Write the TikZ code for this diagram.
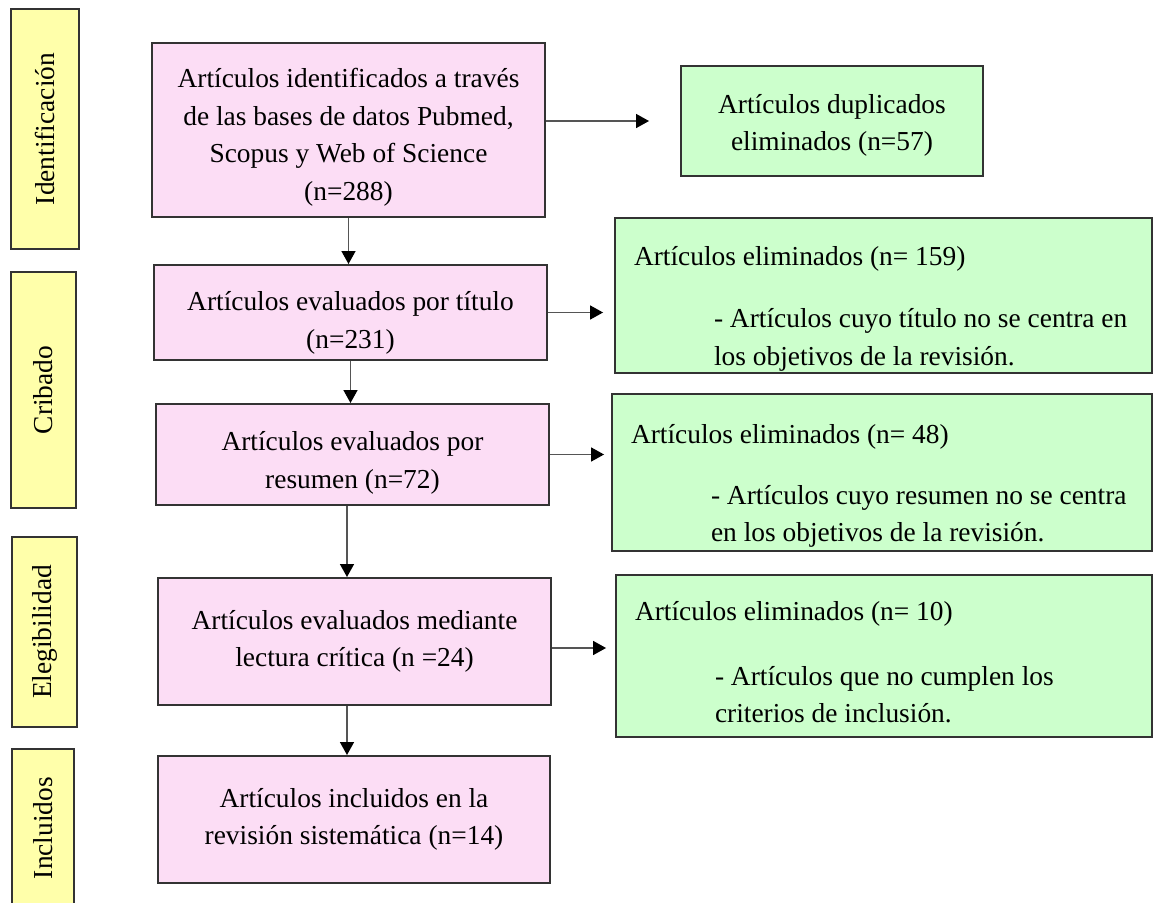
\documentclass[tikz,border=0pt]{standalone}
\usepackage{fontspec}
\setmainfont{Liberation Serif}
\usetikzlibrary{arrows.meta}
\definecolor{stagefill}{RGB}{255,255,170}
\definecolor{pinkfill}{RGB}{252,221,245}
\definecolor{greenfill}{RGB}{204,255,204}
\definecolor{edgegray}{RGB}{51,51,51}
\definecolor{arrowgray}{RGB}{85,85,85}
\tikzset{
  box/.style={draw=edgegray, line width=0.04cm, inner sep=0pt},
  stage/.style={box, fill=stagefill, rotate=90},
  flow/.style={box, fill=pinkfill, align=center, minimum width=7.86cm},
  excl/.style={box, fill=greenfill, align=flush left, inner xsep=0.38cm},
}
\newcommand{\ind}[1]{\hspace*{1.6cm}\mbox{#1}}
\newcommand{\topstrut}[1]{\rule{0pt}{#1}}
\begin{document}
\begin{tikzpicture}[x=0.02cm, y=-0.02cm, font=\fontsize{15.6}{21.4}\selectfont]
      \useasboundingbox (0,0) rectangle (1154,903);
      \draw
        (45,129) node[stage, minimum width=4.8cm, minimum height=1.36cm] (s1){Identificación}
        (43.5,390) node[stage, minimum width=4.72cm, minimum height=1.3cm] (s2){Cribado}
        (44.5,632) node[stage, minimum width=3.8cm, minimum height=1.3cm] (s3){Elegibilidad}
        (43,828) node[stage, minimum width=3.16cm, minimum height=1.24cm] (s4){Incluidos};
      \draw
        (348.5,130) node[flow, minimum height=3.48cm] (p1){\topstrut{0.68cm}Artículos identificados a través\\de las bases de datos Pubmed,\\Scopus y Web of Science\\(n=288)}
        (350.5,312.5) node[flow, minimum height=1.9cm] (p2){\topstrut{0.8cm}Artículos evaluados por título\\(n=231)}
        (352.5,454.5) node[flow, minimum height=2.02cm] (p3){\topstrut{0.72cm}Artículos evaluados por\\resumen (n=72)}
        (354.5,641.5) node[flow, minimum height=2.54cm] (p4){Artículos evaluados mediante\\lectura crítica (n =24)}
        (354,819.5) node[flow, minimum height=2.54cm] (p5){Artículos incluidos en la\\revisión sistemática (n=14)};
      \draw
        (832,121) node[excl, align=center, minimum width=6.04cm, minimum height=2.2cm] (g1){\topstrut{0.56cm}Artículos duplicados\\eliminados (n=57)}
        (883.5,295.5) node[excl, text width=9.98cm, minimum height=3.1cm] (g2){\topstrut{0.92cm}Artículos eliminados (n= 159)\\[0.48cm]\ind{- Artículos cuyo título no se centra en}\\\ind{los objetivos de la revisión.}}
        (882,472.5) node[excl, text width=10.04cm, minimum height=3.14cm] (g3){\topstrut{0.92cm}Artículos eliminados (n= 48)\\[0.46cm]\ind{- Artículos cuyo resumen no se centra}\\\ind{en los objetivos de la revisión.}}
        (884,656) node[excl, text width=9.96cm, minimum height=3.24cm] (g4){\topstrut{0.64cm}Artículos eliminados (n= 10)\\[0.54cm]\ind{- Artículos que no cumplen los}\\\ind{criterios de inclusión.}};
      \begin{scope}[-{Triangle[length=0.26cm, width=0.28cm, color=black]}, draw=arrowgray, line width=0.03cm]
        \draw[shorten >=0.62cm] (p1.east |- g1) to (g1);
        \draw[shorten >=0.22cm] (p2.east) to (p2.east -| g2.west);
        \draw[shorten >=0.14cm] (p3.east) to (p3.east -| g3.west);
        \draw[shorten >=0.18cm] ([yshift=-0.13cm]p4.east) to ([yshift=-0.13cm]p4.east -| g4.west);
        \draw (p1.south) to (p1.south |- p2.north);
        \draw (p2.south) to (p2.south |- p3.north);
        \draw ([xshift=-0.11cm]p3.south) to ([xshift=-0.11cm]p3.south |- p4.north);
        \draw ([xshift=-0.15cm]p4.south) to ([xshift=-0.15cm]p4.south |- p5.north);
      \end{scope}
    \end{tikzpicture}
\end{document}
